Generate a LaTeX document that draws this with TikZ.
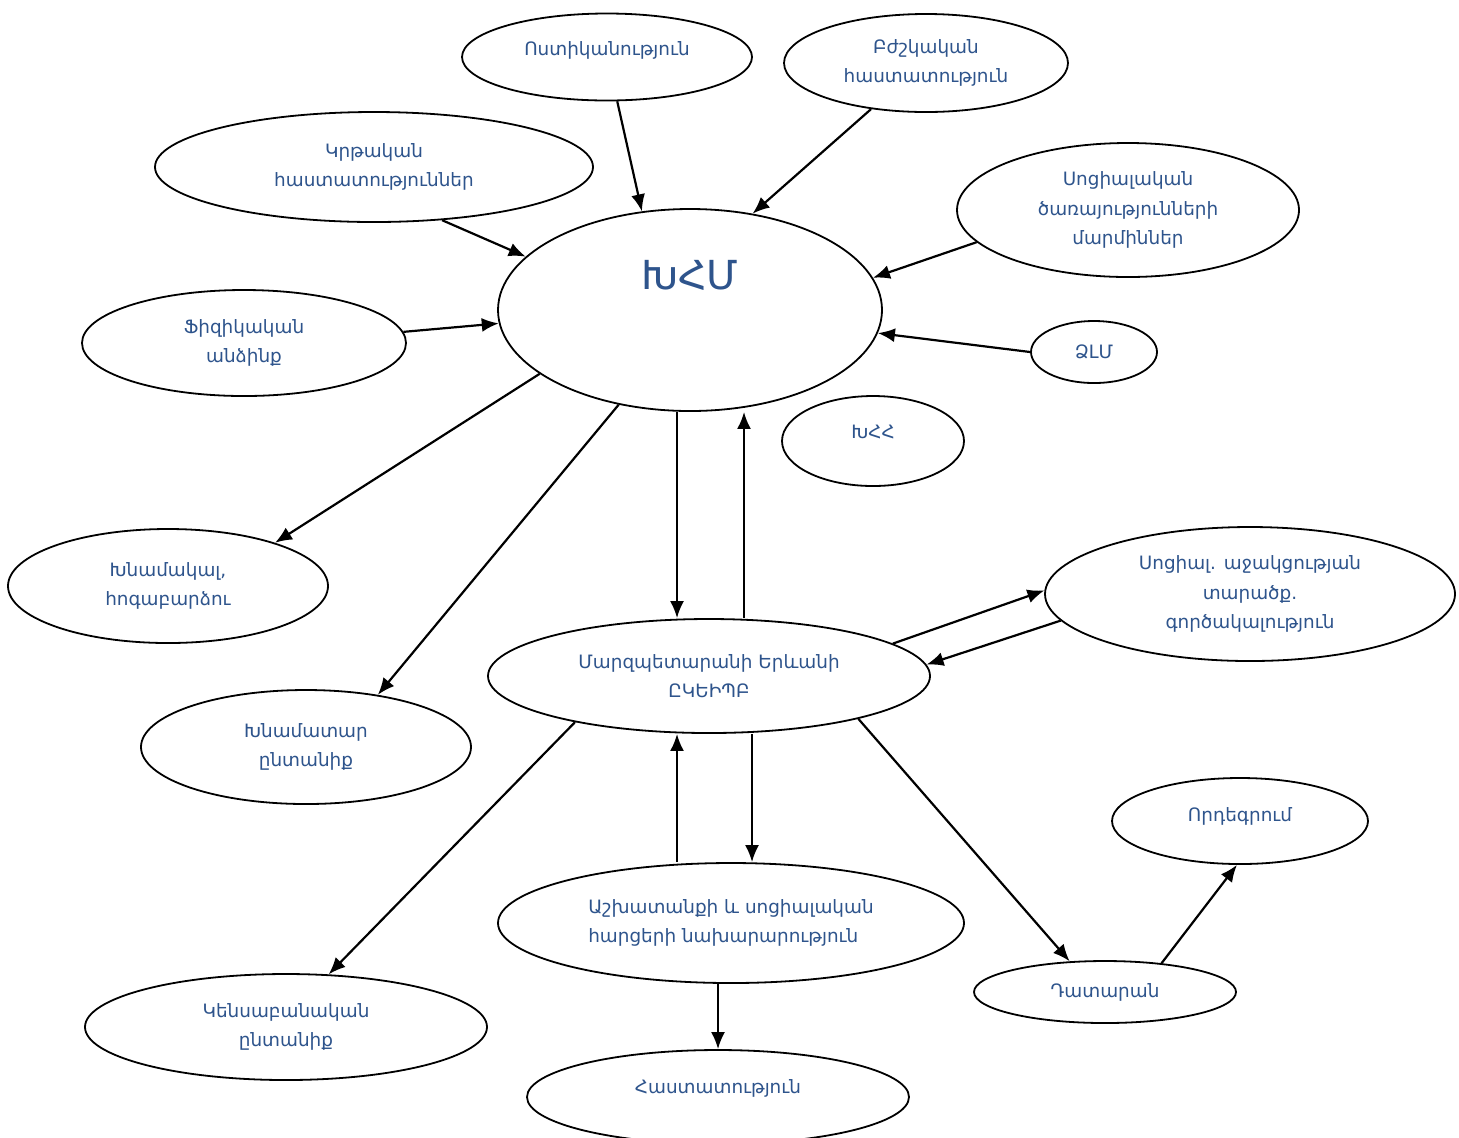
\documentclass[tikz,border=0pt]{standalone}
\usepackage{fontspec}
\newfontfamily\armfont{DejaVu Sans}
\usetikzlibrary{shapes.geometric,arrows.meta}
\definecolor{labelblue}{RGB}{46,84,140}

\begin{document}
\begin{tikzpicture}[x=0.5pt,y=-0.5pt,
    bubble/.style={ellipse, draw, line width=0.9pt, inner sep=0pt, align=center,
        text=labelblue, font=\armfont\fontsize{9.2}{14.6}\selectfont},
    arr/.style={line width=1.1pt, -{Latex[length=8.5pt,width=7pt]}}]
    \useasboundingbox (0,0) rectangle (1459,1137);

    \node[bubble, minimum width=145pt, minimum height=43.5pt, text depth=8pt] (police) at (607,57) {Ոստիկանություն};
    \node[bubble, minimum width=142pt, minimum height=49pt] (med) at (926,63) {Բժշկական\\հաստատություն};
    \node[bubble, minimum width=219pt, minimum height=55pt] (edu) at (374,167) {Կրթական\\հաստատություններ};
    \node[bubble, minimum width=171pt, minimum height=67pt] (soc) at (1128,210) {Սոցիալական\\ծառայությունների\\մարմիններ};
    \node[bubble, minimum width=192pt, minimum height=101pt, text depth=35pt,
        font=\armfont\fontsize{20}{24}\selectfont] (khm) at (690,310) {ԽՀՄ};
    \node[bubble, minimum width=162pt, minimum height=53pt] (phys) at (244,343) {Ֆիզիկական\\անձինք};
    \node[bubble, minimum width=63pt, minimum height=31pt] (mass) at (1094,352) {ՁԼՄ};
    \node[bubble, minimum width=91pt, minimum height=45pt, text depth=9pt] (khh) at (873,441) {ԽՀՀ};
    \node[bubble, minimum width=160pt, minimum height=57pt] (guard) at (168,586) {Խնամակալ,\\հոգաբարձու};
    \node[bubble, minimum width=205pt, minimum height=67pt] (agency) at (1250,594) {Սոցիալ. աջակցության\\տարածք.\\գործակալություն};
    \node[bubble, minimum width=221pt, minimum height=57pt] (marz) at (709,676) {Մարզպետարանի Երևանի\\ԸԿԵԻՊԲ};
    \node[bubble, minimum width=165pt, minimum height=57pt] (foster) at (306,747) {Խնամատար\\ընտանիք};
    \node[bubble, minimum width=128pt, minimum height=43pt, text depth=7pt] (adopt) at (1240,821) {Որդեգրում};
    \node[bubble, minimum width=233pt, minimum height=60pt, align=left] (labour) at (731,923) {Աշխատանքի և սոցիալական\\հարցերի նախարարություն};
    \node[bubble, minimum width=131pt, minimum height=31pt] (court) at (1105,992) {Դատարան};
    \node[bubble, minimum width=201pt, minimum height=53pt] (bio) at (286,1027) {Կենսաբանական\\ընտանիք};
    \node[bubble, minimum width=191pt, minimum height=47pt, text depth=11pt] (inst) at (718,1097) {Հաստատություն};

    \draw[arr] (police.-77) -- (khm.116);
    \draw[arr] (med.-140) -- (khm.57);
    \draw[arr] (edu.-38) -- (khm.162);
    \draw[arr] (soc.-168) -- (khm.10);
    \draw[arr] (phys.4) -- (khm.-176);
    \draw[arr] (mass.180) -- (khm.-7);
    \draw[arr] (khm.-157) -- (guard.22);
    \draw[arr] (khm.-127) -- (foster.36);
    \draw[arr] ([xshift=-16pt]marz.north |- khm.south) -- ([xshift=-16pt]marz.north);
    \draw[arr] ([xshift=17.5pt]marz.north) -- ([xshift=17.5pt]marz.north |- khm.south);
    \draw[arr] (marz.10) -- (agency.179);
    \draw[arr] (agency.-172) -- (marz.3);
    \draw[arr] (marz.-161) -- (bio.51);
    \draw[arr] ([xshift=-27pt]labour.north) -- ([xshift=-27pt]labour.north |- marz.south);
    \draw[arr] ([xshift=10.5pt]labour.north |- marz.south) -- ([xshift=10.5pt]labour.north);
    \draw[arr] (marz.-16) -- (court.139);
    \draw[arr] (court.27) -- (adopt.-94);
    \draw[arr] (labour.south -| inst.north) -- (inst.north);
\end{tikzpicture}
\end{document}
